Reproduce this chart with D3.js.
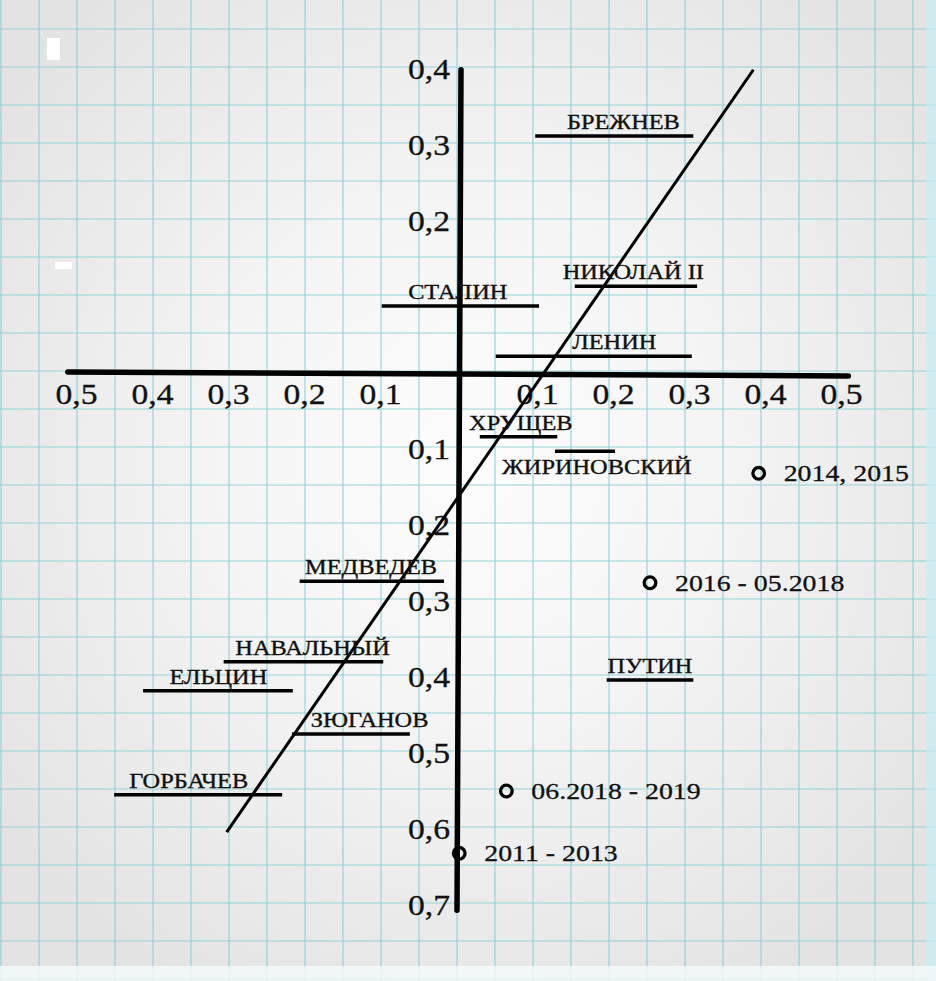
<!DOCTYPE html>
<html><head><meta charset="utf-8">
<script src="https://cdn.jsdelivr.net/npm/d3@7"></script>
<style>html,body{margin:0;padding:0;background:#e8e8e8}svg{display:block}</style>
</head><body>
<svg id="chart" width="936" height="981"></svg>
<script>
// ---- data ----
const xTicks = [-0.5,-0.4,-0.3,-0.2,-0.1,0.1,0.2,0.3,0.4,0.5];
const yTicks = [0.4,0.3,0.2,-0.1,-0.2,-0.3,-0.4,-0.5,-0.6,-0.7];
const axisXExtent = [-0.516, 0.511];
const axisYExtent = [-0.707, 0.399];

const names  = ["БРЕЖНЕВ","НИКОЛАЙ II","СТАЛИН","ЛЕНИН","ХРУЩЕВ","ЖИРИНОВСКИЙ","МЕДВЕДЕВ","НАВАЛЬНЫЙ","ЕЛЬЦИН","ЗЮГАНОВ","ГОРБАЧЕВ","ПУТИН"];
const segX0  = [0.099, 0.151,-0.103,0.047,0.026,0.125,-0.211,-0.311,-0.417,-0.221,-0.455,0.193];
const segX1  = [0.307, 0.312, 0.104,0.305,0.128,0.204,-0.021,-0.101,-0.220,-0.066,-0.234,0.307];
const segY   = [0.312, 0.114, 0.088,0.022,-0.084,-0.103,-0.274,-0.380,-0.418,-0.475,-0.555,-0.404];
const labelX = [0.215, 0.228,-0.003,0.203,0.080,0.180,-0.117,-0.194,-0.318,-0.119,-0.357,0.250];
const labelBelow = [false,false,false,false,false,true,false,false,false,false,false,false];

const periods = ["2014, 2015","2016 - 05.2018","06.2018 - 2019","2011 - 2013"];
const periodX = [0.393, 0.250, 0.061, -0.001];
const periodY = [-0.132, -0.276, -0.550, -0.632];

const trendX = [-0.307, 0.386];
const trendY = [-0.604, 0.399];

// ---- drawing ----
const W = 936, H = 981;
const svg = d3.select("#chart");
const x = d3.scaleLinear().domain([-0.5, 0.5]).range([80, 840]);
const y = d3.scaleLinear().domain([0.4, -0.7]).range([69, 905]);
const FONT = "'Liberation Serif','Times New Roman',serif";
const SX = 1.16;
const fmt = d => d3.format(".1f")(Math.abs(d)).replace(".", ",");

// paper background
const defs = svg.append("defs");
const rg = defs.append("radialGradient").attr("id","paper")
  .attr("cx","0.5").attr("cy","0.47").attr("r","0.62");
rg.append("stop").attr("offset","0").attr("stop-color","#fdfdfd");
rg.append("stop").attr("offset","0.45").attr("stop-color","#f4f4f4");
rg.append("stop").attr("offset","1").attr("stop-color","#e3e3e3");
svg.append("rect").attr("width",W).attr("height",H).attr("fill","url(#paper)");

// grid (graph paper, 0.05 steps)
const gxVals = d3.range(-0.65, 0.66, 0.05);
const gyVals = d3.range(-0.85, 0.50, 0.05);
const grid = svg.append("g").attr("stroke","#86d0d6").attr("stroke-width",1.2).attr("opacity",0.85);
grid.selectAll("line.v").data(gxVals).join("line").attr("class","v")
  .attr("x1",d=>x(d)-3).attr("x2",d=>x(d)-3).attr("y1",0).attr("y2",H);
grid.selectAll("line.h").data(gyVals).join("line").attr("class","h")
  .attr("y1",d=>y(d)-2).attr("y2",d=>y(d)-2).attr("x1",0).attr("x2",W);

// paper edge tint
svg.append("rect").attr("x",926).attr("y",0).attr("width",10).attr("height",H).attr("fill","#c8eef2").attr("opacity",0.7);
svg.append("rect").attr("x",0).attr("y",966).attr("width",W).attr("height",15).attr("fill","#f4fafb").attr("opacity",0.8);
// scan specks
svg.append("rect").attr("x",47).attr("y",38).attr("width",13).attr("height",22).attr("fill","#fff");
svg.append("rect").attr("x",55).attr("y",262).attr("width",17).attr("height",7).attr("fill","#fff");

// axes lines
svg.append("line").attr("x1",x(axisXExtent[0])).attr("x2",x(axisXExtent[1]))
  .attr("y1",y(0)-1).attr("y2",y(0)+3).attr("stroke","#000").attr("stroke-width",5.5).attr("stroke-linecap","round");
svg.append("line").attr("x1",x(0)+1).attr("x2",x(0)-3)
  .attr("y1",y(axisYExtent[1])).attr("y2",y(axisYExtent[0])).attr("stroke","#000").attr("stroke-width",5.5).attr("stroke-linecap","round");

// tick labels via d3 axes
const gxAxis = svg.append("g").attr("transform",`translate(0,${y(0)})`)
  .call(d3.axisBottom(x).tickValues(xTicks).tickSize(0).tickPadding(0).tickFormat(fmt));
gxAxis.select(".domain").remove();
gxAxis.attr("font-family",FONT).attr("font-size",29);
gxAxis.selectAll("text").attr("y",31).attr("dy",null).attr("fill","#111")
  .attr("stroke","#111").attr("stroke-width",0.3)
  .attr("transform",d=>`translate(${d<0?-4:1},0) scale(${SX},1)`);

const gyAxis = svg.append("g").attr("transform",`translate(${x(0)-10},0)`)
  .call(d3.axisLeft(y).tickValues(yTicks).tickSize(0).tickPadding(0).tickFormat(fmt));
gyAxis.select(".domain").remove();
gyAxis.attr("font-family",FONT).attr("font-size",29);
gyAxis.selectAll("text").attr("x",0).attr("dy","0.34em").attr("fill","#111")
  .attr("stroke","#111").attr("stroke-width",0.3)
  .attr("transform",`scale(${SX},1)`);

// person segments
const persons = names.map((n,i)=>({n,x0:segX0[i],x1:segX1[i],y:segY[i],lx:labelX[i],below:labelBelow[i]}));
svg.append("g").selectAll("line").data(persons).join("line")
  .attr("x1",d=>x(d.x0)).attr("x2",d=>x(d.x1)).attr("y1",d=>y(d.y)).attr("y2",d=>y(d.y))
  .attr("stroke","#000").attr("stroke-width",3.5);

// trend line
svg.append("line").attr("x1",x(trendX[0])).attr("y1",y(trendY[0]))
  .attr("x2",x(trendX[1])).attr("y2",y(trendY[1]))
  .attr("stroke","#000").attr("stroke-width",3);

// person labels
svg.append("g").attr("font-family",FONT).attr("font-size",21).attr("fill","#111")
  .attr("stroke","#111").attr("stroke-width",0.35)
  .selectAll("text").data(persons).join("text")
  .attr("text-anchor","middle")
  .attr("transform",d=>`translate(${x(d.lx)},${y(d.y)+(d.below?23:-7)}) scale(${SX},1)`)
  .text(d=>d.n);

// period points
const pts = periods.map((p,i)=>({p,x:periodX[i],y:periodY[i]}));
const pg = svg.append("g");
pg.selectAll("circle").data(pts).join("circle")
  .attr("cx",d=>x(d.x)).attr("cy",d=>y(d.y)).attr("r",5.8)
  .attr("fill","none").attr("stroke","#000").attr("stroke-width",3.3);
pg.selectAll("text").data(pts).join("text")
  .attr("font-family",FONT).attr("font-size",24).attr("fill","#111")
  .attr("stroke","#111").attr("stroke-width",0.3)
  .attr("transform",d=>`translate(${x(d.x)+25},${y(d.y)+8}) scale(${SX},1)`)
  .text(d=>d.p);
</script>
</body></html>
